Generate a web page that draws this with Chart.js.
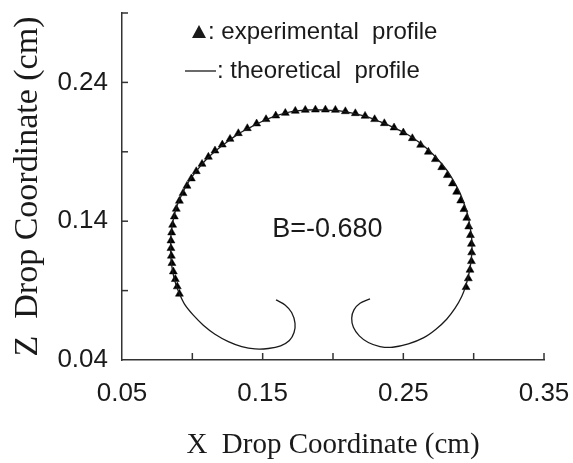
<!DOCTYPE html>
<html>
<head>
<meta charset="utf-8">
<script src="https://cdn.jsdelivr.net/npm/chart.js@4.4.0/dist/chart.umd.min.js"></script>
<style>
html, body { margin: 0; padding: 0; background: #fff; }
#wrap { width: 573px; height: 463px; }
</style>
</head>
<body>
<div id="wrap"><canvas id="dropChart"></canvas></div>
<script>
"use strict";

// theoretical profile (cm)
const theoX = [0.1595, 0.1659, 0.1706, 0.1730, 0.1723, 0.1690, 0.1628, 0.1540, 0.1446, 0.1351,
    0.1256, 0.1161, 0.1078, 0.1007, 0.0948, 0.0912, 0.0884, 0.0865, 0.0853, 0.0846,
    0.0846, 0.0848, 0.0858, 0.0872, 0.0893, 0.0924, 0.0960, 0.1002, 0.1050, 0.1107,
    0.1173, 0.1249, 0.1334, 0.1422, 0.1517, 0.1611, 0.1706, 0.1813, 0.1931, 0.2038,
    0.2145, 0.2240, 0.2334, 0.2429, 0.2524, 0.2607, 0.2685, 0.2749, 0.2808, 0.2856,
    0.2898, 0.2931, 0.2958, 0.2974, 0.2986, 0.2988, 0.2981, 0.2967, 0.2946, 0.2915,
    0.2868, 0.2808, 0.2732, 0.2642, 0.2536, 0.2424, 0.2334, 0.2251, 0.2187, 0.2145,
    0.2133, 0.2149, 0.2192, 0.2263];
const theoZ = [0.0833, 0.0797, 0.0742, 0.0665, 0.0598, 0.0540, 0.0502, 0.0483, 0.0480, 0.0497,
    0.0533, 0.0586, 0.0651, 0.0723, 0.0797, 0.0869, 0.0941, 0.1013, 0.1085, 0.1157,
    0.1229, 0.1301, 0.1373, 0.1445, 0.1517, 0.1589, 0.1661, 0.1726, 0.1788, 0.1853,
    0.1913, 0.1973, 0.2033, 0.2081, 0.2129, 0.2165, 0.2189, 0.2201, 0.2201, 0.2196,
    0.2177, 0.2153, 0.2117, 0.2076, 0.2028, 0.1973, 0.1908, 0.1841, 0.1769, 0.1692,
    0.1613, 0.1529, 0.1445, 0.1361, 0.1277, 0.1193, 0.1109, 0.1025, 0.0941, 0.0857,
    0.0773, 0.0694, 0.0622, 0.0559, 0.0516, 0.0492, 0.0497, 0.0526, 0.0574, 0.0636,
    0.0701, 0.0761, 0.0809, 0.0840];

// experimental profile (triangles)
const expX = [0.0908, 0.0893, 0.0879, 0.0865, 0.0855, 0.0851, 0.0848, 0.0848, 0.0853, 0.0860,
    0.0872, 0.0886, 0.0908, 0.0934, 0.0962, 0.0993, 0.1028, 0.1069, 0.1114, 0.1161,
    0.1213, 0.1268, 0.1327, 0.1391, 0.1457, 0.1524, 0.1593, 0.1661, 0.1732, 0.1803,
    0.1875, 0.1946, 0.2017, 0.2088, 0.2159, 0.2228, 0.2296, 0.2365, 0.2434, 0.2500,
    0.2564, 0.2623, 0.2678, 0.2728, 0.2773, 0.2813, 0.2849, 0.2879, 0.2908, 0.2931,
    0.2951, 0.2965, 0.2977, 0.2984, 0.2986, 0.2984, 0.2974, 0.2962, 0.2946];
const expZ = [0.0876, 0.0929, 0.0982, 0.1037, 0.1097, 0.1150, 0.1205, 0.1260, 0.1318, 0.1373,
    0.1433, 0.1488, 0.1546, 0.1601, 0.1654, 0.1707, 0.1759, 0.1812, 0.1863, 0.1908,
    0.1951, 0.1992, 0.2033, 0.2069, 0.2103, 0.2134, 0.2160, 0.2179, 0.2194, 0.2201,
    0.2203, 0.2203, 0.2201, 0.2191, 0.2177, 0.2158, 0.2134, 0.2105, 0.2074, 0.2038,
    0.1997, 0.1949, 0.1899, 0.1846, 0.1788, 0.1731, 0.1671, 0.1611, 0.1548, 0.1486,
    0.1423, 0.1361, 0.1299, 0.1236, 0.1174, 0.1111, 0.1049, 0.0987, 0.0924];

const xTicks = [0.05, 0.10, 0.15, 0.20, 0.25, 0.30, 0.35];
const zTicks = [0.04, 0.09, 0.14, 0.19, 0.24, 0.29];
const xLabelled = ['0.05', '0.15', '0.25', '0.35'];
const zLabelled = ['0.04', '0.14', '0.24'];

const bondLabel = 'B=-0.680';
const bondPos = [0.196, 0.134];
const legendTexts = [': experimental  profile', ': theoretical  profile'];

const ink = '#1a1a1a';
const sans = 'Liberation Sans, Arial, sans-serif';
const serif = 'Liberation Serif, Times New Roman, serif';

// inward tick marks, legend and B label
const dropExtras = {
    id: 'dropExtras',
    afterDraw(chart) {
        const ctx = chart.ctx;
        const xs = chart.scales.x;
        const ys = chart.scales.y;
        const area = chart.chartArea;
        ctx.save();
        ctx.strokeStyle = '#333';
        ctx.lineWidth = 1.5;
        xs.ticks.forEach((t, i) => {
            if (i === 0) return;
            const px = xs.getPixelForValue(t.value);
            ctx.beginPath();
            ctx.moveTo(px, area.bottom);
            ctx.lineTo(px, area.bottom - 7);
            ctx.stroke();
        });
        ys.ticks.forEach((t, i) => {
            if (i === 0) return;
            const py = ys.getPixelForValue(t.value);
            ctx.beginPath();
            ctx.moveTo(area.left, py);
            ctx.lineTo(area.left + 6, py);
            ctx.stroke();
        });

        // legend
        ctx.fillStyle = ink;
        ctx.textBaseline = 'middle';
        ctx.textAlign = 'left';
        ctx.font = '24px ' + sans;
        const lx = area.left + 77;
        const ly1 = area.top + 19;
        const ly2 = area.top + 58;
        ctx.beginPath();
        ctx.moveTo(lx, ly1 - 7);
        ctx.lineTo(lx + 7, ly1 + 6);
        ctx.lineTo(lx - 7, ly1 + 6);
        ctx.closePath();
        ctx.fill();
        ctx.fillText(legendTexts[0], lx + 9, ly1);
        ctx.beginPath();
        ctx.lineWidth = 1.3;
        ctx.strokeStyle = ink;
        ctx.moveTo(lx - 14, ly2);
        ctx.lineTo(lx + 17, ly2);
        ctx.stroke();
        ctx.fillText(legendTexts[1], lx + 18, ly2);

        // B value
        ctx.font = '27px ' + sans;
        ctx.textAlign = 'center';
        ctx.fillText(bondLabel, xs.getPixelForValue(bondPos[0]), ys.getPixelForValue(bondPos[1]));
        ctx.restore();
    }
};

const ctxDrop = document.getElementById('dropChart').getContext('2d');
const dropChart = new Chart(ctxDrop, {
    type: 'scatter',
    data: {
        datasets: [{
            label: 'theoretical profile',
            data: theoX.map((x, i) => ({x: x, y: theoZ[i]})),
            showLine: true,
            borderColor: ink,
            borderWidth: 1.3,
            tension: 0.3,
            pointRadius: 0,
            fill: false
        }, {
            label: 'experimental profile',
            data: expX.map((x, i) => ({x: x, y: expZ[i]})),
            showLine: false,
            pointStyle: 'triangle',
            pointRadius: 4.6,
            backgroundColor: '#000',
            borderColor: '#000',
            borderWidth: 0.5
        }]
    },
    options: {
        responsive: true,
        maintainAspectRatio: false,
        animation: false,
        layout: {padding: {left: 0, right: 29, top: 13, bottom: 0}},
        plugins: {
            legend: {display: false},
            tooltip: {enabled: false}
        },
        scales: {
            x: {
                type: 'linear',
                min: xTicks[0],
                max: xTicks[xTicks.length - 1],
                grid: {display: false, drawTicks: false},
                border: {display: true, color: '#333', width: 1.5},
                ticks: {
                    stepSize: 0.05,
                    padding: 18,
                    color: ink,
                    font: {family: sans, size: 26},
                    maxRotation: 0,
                    autoSkip: false,
                    callback: (v, i) => (i % 2 === 0 ? xLabelled[i / 2] : '')
                },
                title: {
                    display: true,
                    text: 'X  Drop Coordinate (cm)',
                    color: ink,
                    font: {family: serif, size: 29},
                    padding: {top: 0, bottom: 0}
                },
                afterFit: (scale) => {
                    scale.height = 103;
                    scale.paddingLeft = 0;
                    scale.paddingRight = 0;
                }
            },
            y: {
                type: 'linear',
                min: zTicks[0],
                max: zTicks[zTicks.length - 1],
                grid: {display: false, drawTicks: false},
                border: {display: true, color: '#333', width: 1.5},
                ticks: {
                    stepSize: 0.05,
                    padding: 14,
                    color: ink,
                    font: {family: sans, size: 26},
                    autoSkip: false,
                    callback: (v, i) => (i % 2 === 0 && zLabelled[i / 2] ? zLabelled[i / 2] : '')
                },
                title: {
                    display: true,
                    text: 'Z  Drop Coordinate (cm)',
                    color: ink,
                    font: {family: serif, size: 34},
                    padding: {top: 8, bottom: 0}
                },
                afterFit: (scale) => {
                    scale.width = 122;
                    scale.paddingTop = 0;
                    scale.paddingBottom = 0;
                }
            }
        }
    },
    plugins: [dropExtras]
});
</script>
</body>
</html>
